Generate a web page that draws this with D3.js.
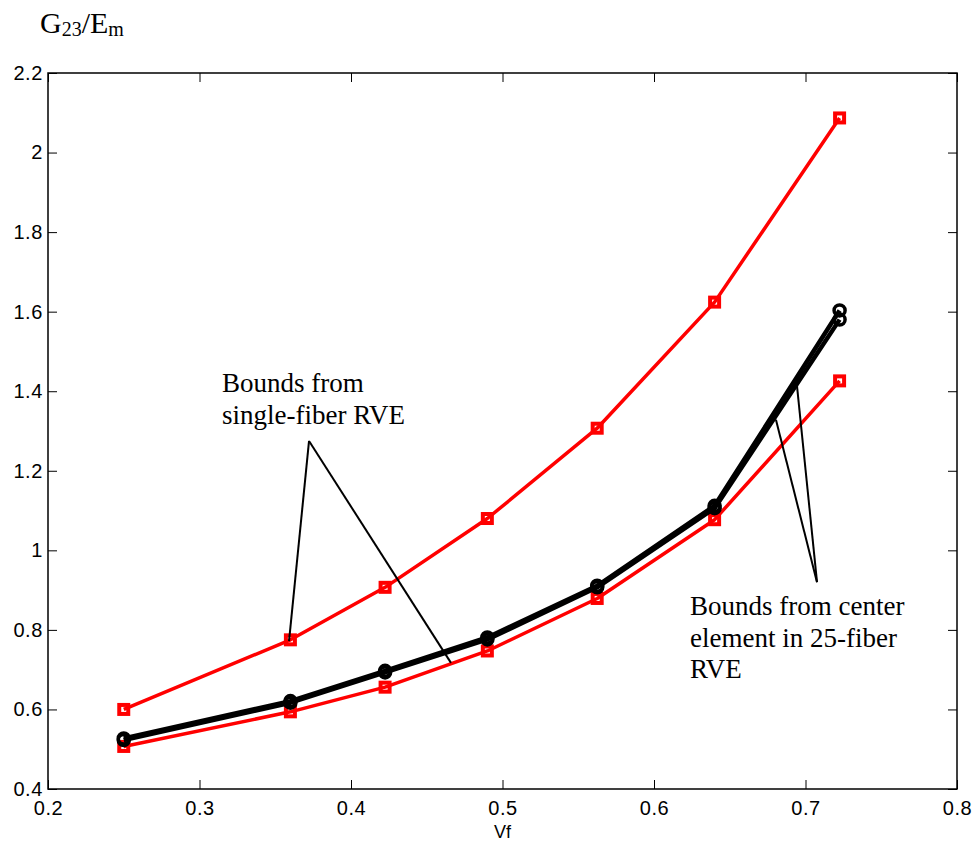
<!DOCTYPE html>
<html>
<head>
<meta charset="utf-8">
<script src="https://cdn.jsdelivr.net/npm/d3@7"></script>
<style>
  body { margin: 0; background: #fff; }
  .tick text { font-family: "Liberation Sans", Arial, sans-serif; }
  .note { font-family: "Liberation Serif", "Times New Roman", serif; font-size: 27px; }
</style>
</head>
<body>
<div id="chart"></div>
<script>
// fiber volume fraction
var vf = [0.25, 0.36, 0.4225, 0.49, 0.5625, 0.64, 0.7225];

// bounds from single-fiber RVE (red)
var singleUpper = [0.600, 0.775, 0.907, 1.080, 1.307, 1.624, 2.087];
var singleLower = [0.507, 0.594, 0.656, 0.747, 0.879, 1.077, 1.426];

// bounds from center element in 25-fiber RVE (black)
var centerUpper = [0.527, 0.621, 0.697, 0.781, 0.911, 1.112, 1.603];
var centerLower = [0.523, 0.617, 0.693, 0.776, 0.907, 1.106, 1.580];

var xTicks = [0.2, 0.3, 0.4, 0.5, 0.6, 0.7, 0.8];
var yTicks = [0.4, 0.6, 0.8, 1, 1.2, 1.4, 1.6, 1.8, 2, 2.2];

// annotation leader lines, in data units: [apex, end1, end2]
var noteSingle = [[0.3723, 1.275], [0.3591, 0.772], [0.466, 0.717]];
var noteCenter = [[0.7076, 0.920], [0.6805, 1.328], [0.6944, 1.413]];

var W = 978, H = 846;
var margin = {top: 73, right: 21, bottom: 57, left: 48};
var width = W - margin.left - margin.right,
    height = H - margin.top - margin.bottom;

var svg = d3.select("#chart").append("svg")
    .attr("width", W)
    .attr("height", H);

var g = svg.append("g")
    .attr("transform", "translate(" + margin.left + "," + margin.top + ")");

var x = d3.scaleLinear().domain([0.2, 0.8]).range([0, width]);
var y = d3.scaleLinear().domain([0.4, 2.2]).range([height, 0]);

// axes, ticks pointing inward like matlab
function styleAxis(sel) {
  sel.select(".domain").remove();
  sel.selectAll(".tick line").attr("stroke", "#000").attr("stroke-width", 1);
  sel.selectAll(".tick text").attr("fill", "#000").style("font-size", "20px").style("letter-spacing", "0.6px");
}

g.append("g")
    .attr("transform", "translate(0," + height + ")")
    .call(d3.axisBottom(x).tickValues(xTicks).tickSizeInner(-9).tickSizeOuter(0).tickPadding(12).tickFormat(d3.format("")))
    .call(styleAxis);

g.append("g")
    .call(d3.axisTop(x).tickValues(xTicks).tickSizeInner(-9).tickSizeOuter(0).tickFormat(""))
    .call(styleAxis);

g.append("g")
    .call(d3.axisLeft(y).tickValues(yTicks).tickSizeInner(-9).tickSizeOuter(0).tickPadding(5).tickFormat(d3.format("")))
    .call(styleAxis);

g.append("g")
    .attr("transform", "translate(" + width + ",0)")
    .call(d3.axisRight(y).tickValues(yTicks).tickSizeInner(-9).tickSizeOuter(0).tickFormat(""))
    .call(styleAxis);

g.append("rect")
    .attr("width", width)
    .attr("height", height)
    .attr("fill", "none")
    .attr("stroke", "#000")
    .attr("stroke-width", 1.5);

var line = d3.line()
    .x(function(d) { return x(d[0]); })
    .y(function(d) { return y(d[1]); });

function series(vals, color, lw, marker) {
  var pts = vf.map(function(v, i) { return [v, vals[i]]; });
  g.append("path")
      .datum(pts)
      .attr("fill", "none")
      .attr("stroke", color)
      .attr("stroke-width", lw)
      .attr("stroke-linejoin", "round")
      .attr("d", line);

  if (marker == "square") {
    g.selectAll(null).data(pts).enter().append("rect")
        .attr("x", function(d) { return x(d[0]) - 4.5; })
        .attr("y", function(d) { return y(d[1]) - 4.5; })
        .attr("width", 9)
        .attr("height", 9)
        .attr("fill", "none")
        .attr("stroke", color)
        .attr("stroke-width", 4);
  } else {
    g.selectAll(null).data(pts).enter().append("circle")
        .attr("cx", function(d) { return x(d[0]); })
        .attr("cy", function(d) { return y(d[1]); })
        .attr("r", 5.5)
        .attr("fill", "none")
        .attr("stroke", color)
        .attr("stroke-width", 3.5);
  }
}

series(singleUpper, "#ff0000", 3.5, "square");
series(singleLower, "#ff0000", 3.5, "square");
series(centerUpper, "#000", 4.5, "circle");
series(centerLower, "#000", 4.5, "circle");

// leader lines
[noteSingle, noteCenter].forEach(function(n) {
  [1, 2].forEach(function(k) {
    g.append("line")
        .attr("x1", x(n[0][0])).attr("y1", y(n[0][1]))
        .attr("x2", x(n[k][0])).attr("y2", y(n[k][1]))
        .attr("stroke", "#000")
        .attr("stroke-width", 2);
  });
});

// annotations
function note(lines, px, py) {
  var t = svg.append("text").attr("class", "note").attr("x", px).attr("y", py);
  lines.forEach(function(s, i) {
    t.append("tspan").attr("x", px).attr("dy", i == 0 ? 0 : 31.5).text(s);
  });
}
note(["Bounds from", "single-fiber RVE"], 222, 392);
note(["Bounds from center", "element in 25-fiber", "RVE"], 690, 615);

// x label
svg.append("text")
    .attr("x", margin.left + width / 2)
    .attr("y", 838)
    .attr("text-anchor", "middle")
    .style("font-family", "Liberation Sans, Arial, sans-serif")
    .style("font-size", "18px")
    .text("Vf");

// y label G23/Em
var yl = svg.append("text")
    .attr("x", 40)
    .attr("y", 33)
    .style("font-family", "Liberation Serif, Times New Roman, serif")
    .style("font-size", "30px");
yl.append("tspan").text("G");
yl.append("tspan").attr("dy", 3).style("font-size", "20px").text("23");
yl.append("tspan").attr("dy", -3).text("/E");
yl.append("tspan").attr("dy", 3).style("font-size", "20px").text("m");
</script>
</body>
</html>
